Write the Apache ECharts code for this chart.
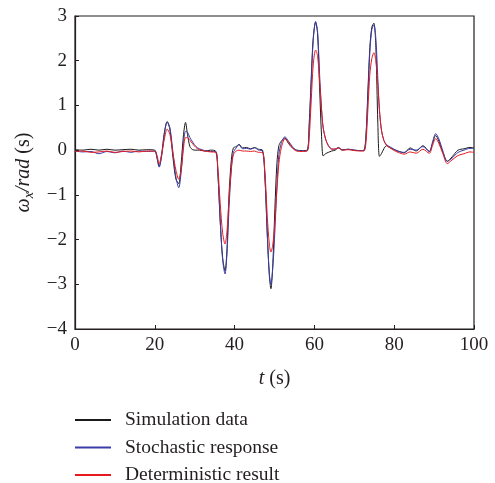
<!DOCTYPE html>
<html>
<head>
<meta charset="utf-8">
<script src="https://cdn.jsdelivr.net/npm/echarts@6/dist/echarts.min.js"></script>
<style>
  html, body { margin: 0; padding: 0; background: #fff; }
  #chart { width: 495px; height: 483px; }
</style>
</head>
<body>
<div id="chart"></div>
<script>
// time samples (s)
const time = [
  0, 2, 4, 6, 8, 10, 12, 14, 16, 18, 20,
  20.5, 21.1, 21.7, 22.4, 23.1, 23.8, 24.6, 25.3, 26, 26.6, 27.2, 27.7, 28.2, 28.8, 29.5,
  30.3, 31.2, 32.5, 34, 35.3,
  35.8, 36.4, 37, 37.6, 38.1, 38.6, 39.2, 39.7, 40.4, 41.1, 42,
  43, 44, 45, 46, 47,
  47.6, 48.2, 48.7, 49.1, 49.6, 50.1, 50.6, 51.1, 51.7, 52.6, 53.5, 54.5, 55.5,
  57, 58.2, 58.7, 59.2, 59.7, 60.3, 60.8, 61.3, 61.8, 62.2, 62.8, 63.5, 64.3,
  65.2, 66, 67, 68.5, 70, 71.5, 72.4,
  72.9, 73.4, 73.9, 74.4, 74.9, 75.4, 75.9, 76.3, 76.8, 77.4, 78.1, 79, 79.8,
  81, 82.5, 84, 85.5, 87.2, 88.8, 89.6, 90.4, 91.2, 92.2, 93.3, 94.5, 96, 97.5, 99, 100
];
const simulation = [
  0.01, 0.0, 0.02, 0.0, 0.02, 0.0, 0.01, 0.02, 0.0, 0.01, 0.0,
  -0.15, -0.36, -0.1, 0.4, 0.64, 0.45, -0.2, -0.65, -0.75, -0.3, 0.35, 0.62, 0.35, 0.08, 0.01,
  0.0, 0.0, -0.02, 0.0, -0.03,
  -0.5, -1.6, -2.4, -2.7, -2.2, -1.0, -0.2, 0.05, 0.08, 0.13, 0.05,
  0.06, 0.03, 0.06, 0.02, 0.0,
  -0.6, -1.9, -2.8, -3.1, -2.5, -1.3, -0.3, 0.1, 0.2, 0.27, 0.15, 0.05, 0.0,
  -0.01, 0.0, 0.6, 1.6, 2.5, 2.86, 2.6, 1.4, 0.3, -0.13, -0.08, -0.05, -0.02,
  0.0, 0.05, 0.0, 0.02, 0.0, -0.01, 0.0,
  0.3, 1.3, 2.3, 2.75, 2.84, 2.3, 0.6, -0.14, -0.08, 0.03, 0.1, 0.05, 0.02,
  -0.02, -0.06, 0.05, -0.02, 0.1, -0.03, 0.15, 0.33, 0.2, -0.05, -0.25, -0.15, 0.0, 0.03, 0.06, 0.05
];
const stochastic = [
  -0.02, -0.04, -0.03, -0.08, -0.03, -0.06, -0.02, -0.05, -0.02, -0.03, -0.02,
  -0.15, -0.38, -0.15, 0.35, 0.63, 0.5, -0.1, -0.6, -0.84, -0.5, 0.15, 0.42, 0.4, 0.28, 0.18,
  0.08, 0.03, -0.01, -0.03, -0.03,
  -0.5, -1.6, -2.45, -2.77, -2.3, -1.3, -0.4, -0.05, 0.05, 0.12, 0.03,
  0.04, 0.02, 0.05, 0.0, -0.02,
  -0.6, -1.9, -2.75, -3.0, -2.6, -1.8, -0.8, -0.1, 0.15, 0.3, 0.2, 0.08, 0.0,
  -0.02, -0.01, 0.5, 1.5, 2.45, 2.88, 2.65, 1.7, 0.9, 0.5, 0.25, 0.1, 0.03,
  0.02, 0.06, 0.01, 0.02, 0.0, -0.01, -0.01,
  0.25, 1.2, 2.2, 2.7, 2.8, 2.5, 1.6, 0.9, 0.45, 0.22, 0.12, 0.07, 0.03,
  -0.03, -0.05, 0.02, 0.0, 0.08, -0.03, 0.18, 0.37, 0.25, -0.02, -0.25, -0.18, -0.05, 0.0, 0.04, 0.03
];
const deterministic = [
  -0.03, -0.02, -0.05, -0.04, -0.02, -0.05, -0.03, -0.02, -0.04, -0.02, -0.03,
  -0.1, -0.3, -0.1, 0.25, 0.47, 0.35, -0.1, -0.45, -0.65, -0.45, 0.05, 0.28, 0.28, 0.22, 0.14,
  0.06, 0.01, -0.02, -0.04, -0.05,
  -0.4, -1.2, -1.85, -2.1, -1.8, -1.1, -0.4, -0.1, -0.02, 0.0, -0.02,
  -0.02, -0.03, -0.02, -0.05, -0.05,
  -0.5, -1.5, -2.1, -2.28, -2.1, -1.6, -0.9, -0.3, 0.05, 0.25, 0.18, 0.05, -0.02,
  -0.03, -0.02, 0.3, 1.1, 1.9, 2.24, 2.1, 1.55, 0.9, 0.5, 0.25, 0.1, 0.02,
  0.03, 0.05, 0.0, 0.01, -0.01, -0.02, -0.02,
  0.15, 0.9, 1.7, 2.05, 2.18, 2.0, 1.45, 0.9, 0.45, 0.22, 0.1, 0.05, 0.0,
  -0.05, -0.09, -0.04, -0.07, 0.02, -0.07, 0.1, 0.26, 0.15, -0.08, -0.3, -0.22, -0.12, -0.08, -0.04, -0.05
];
const seriesNames = ['Simulation data', 'Stochastic response', 'Deterministic result'];
const seriesColors = ['#1a1a1a', '#3c3caa', '#e8191c'];

const font = 'Liberation Serif';
const textColor = '#231f20';

const pairs = values => time.map((t, i) => [t, values[i]]);

const chart = echarts.init(document.getElementById('chart'));

chart.setOption({
  animation: false,
  textStyle: { fontFamily: font, color: textColor },
  grid: {
    left: 75, right: 21, top: 16, bottom: 154,
    show: true, borderColor: '#231f20', borderWidth: 1.2
  },
  legend: {
    orient: 'vertical',
    left: 74, top: 410, height: 120, padding: 0,
    itemWidth: 36, itemHeight: 14, itemGap: 7.5,
    itemStyle: { opacity: 0 },
    textStyle: { fontFamily: font, fontSize: 19.5, lineHeight: 18, color: textColor, padding: [0, 0, 0, 9] },
    data: seriesNames
  },
  xAxis: {
    type: 'value', min: 0, max: 100, interval: 20,
    name: '{i|t} (s)',
    nameLocation: 'middle', nameGap: 40,
    nameTextStyle: {
      fontFamily: font, fontSize: 20, color: textColor,
      rich: { i: { fontFamily: font, fontSize: 20, fontStyle: 'italic', color: textColor } }
    },
    axisLine: { onZero: false, lineStyle: { color: '#231f20', width: 1.2 } },
    axisTick: { inside: true, length: 4, lineStyle: { color: '#231f20' } },
    axisLabel: { fontFamily: font, fontSize: 19, color: textColor, margin: 7 },
    splitLine: { show: false }
  },
  yAxis: {
    type: 'value', min: -4, max: 3, interval: 1,
    name: '{i|ω}{sub|x}{i|/rad} (s)',
    nameLocation: 'middle', nameGap: 37, nameRotate: 90,
    nameTextStyle: {
      fontFamily: font, fontSize: 20, color: textColor,
      rich: {
        i: { fontFamily: font, fontSize: 20, fontStyle: 'italic', color: textColor },
        sub: { fontFamily: font, fontSize: 14, fontStyle: 'italic', color: textColor, verticalAlign: 'bottom', padding: [10, 0, 0, 0] }
      }
    },
    axisLine: { onZero: false, lineStyle: { color: '#231f20', width: 1.2 } },
    axisTick: { inside: true, length: 4, lineStyle: { color: '#231f20' } },
    axisLabel: {
      fontFamily: font, fontSize: 19, color: textColor, margin: 8,
      formatter: v => String(v).replace('-', '\u2212')
    },
    splitLine: { show: false }
  },
  series: [
    { name: seriesNames[0], data: pairs(simulation) },
    { name: seriesNames[1], data: pairs(stochastic) },
    { name: seriesNames[2], data: pairs(deterministic) }
  ].map((s, i) => Object.assign(s, {
    type: 'line',
    showSymbol: false,
    symbol: 'none',
    smooth: 0.3,
    color: seriesColors[i],
    lineStyle: { width: 1, color: seriesColors[i] }
  }))
});
</script>
</body>
</html>
